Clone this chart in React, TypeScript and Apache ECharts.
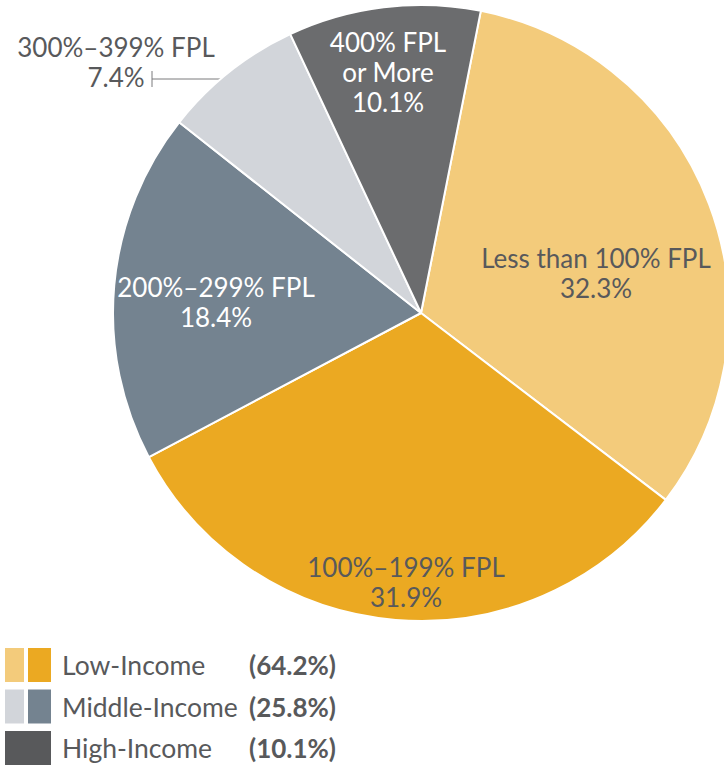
import React, { useEffect, useRef } from "react";
import * as echarts from "echarts";

const categories = ["Less than 100% FPL", "100%–199% FPL", "200%–299% FPL", "300%–399% FPL", "400% FPL\nor More"];
const values = [32.3, 31.9, 18.4, 7.4, 10.1];
const sliceColors = ["#F3CB7B", "#EBA922", "#748390", "#D2D5DA", "#6B6C6E"];
const labelColors = ["#58595B", "#58595B", "#FFFFFF", "#58595B", "#FFFFFF"];
const labelPos: [number, number][] = [[596, 273], [406, 582], [216, 302], [116, 62], [388, 72]];

const legendNames = ["Low-Income", "Middle-Income", "High-Income"];
const legendValues = ["(64.2%)", "(25.8%)", "(10.1%)"];
const legendSwatches = [["#F3CB7B", "#EBA922"], ["#D2D5DA", "#748390"], ["#58595B"]];

const FONT = "Lato, 'Noto Sans', sans-serif";

export default function App() {
  const ref = useRef<HTMLDivElement>(null);
  useEffect(() => {
    document.body.style.margin = "0";
    const chart = echarts.init(ref.current!, undefined, { renderer: "svg" });
    const graphic: any[] = [];
    legendNames.forEach((name, i) => {
      const y0 = 648 + i * 41.5;
      const sw = legendSwatches[i];
      if (sw.length === 2) {
        graphic.push({ type: "rect", shape: { x: 5, y: y0, width: 19, height: 34 }, style: { fill: sw[0] } });
        graphic.push({ type: "rect", shape: { x: 28, y: y0, width: 23, height: 34 }, style: { fill: sw[1] } });
      } else {
        graphic.push({ type: "rect", shape: { x: 5, y: y0, width: 46, height: 34 }, style: { fill: sw[0] } });
      }
      graphic.push({
        type: "text", x: 62, y: y0 + 17,
        style: { text: name, fill: "#58595B", font: `26.5px ${FONT}`, verticalAlign: "middle", align: "left" },
      });
      graphic.push({
        type: "text", x: 336, y: y0 + 17,
        style: { text: legendValues[i], fill: "#58595B", font: `bold 26px ${FONT}`, verticalAlign: "middle", align: "right" },
      });
    });
    // leader line for small slice
    graphic.push({ type: "line", shape: { x1: 152, y1: 79, x2: 221, y2: 79 }, style: { stroke: "#7a7b7d", lineWidth: 1 } });
    graphic.push({ type: "line", shape: { x1: 152, y1: 71, x2: 152, y2: 87 }, style: { stroke: "#7a7b7d", lineWidth: 1 } });

    chart.setOption({
      animation: false,
      graphic,
      series: [
        {
          type: "pie",
          center: [421, 313],
          radius: [0, 308],
          startAngle: 78.8,
          clockwise: true,
          avoidLabelOverlap: false,
          itemStyle: { borderColor: "#ffffff", borderWidth: 2 },
          label: {
            show: true,
            position: "inside",
            fontFamily: FONT,
            fontSize: 26,
            lineHeight: 30,
            align: "center",
            formatter: (p: any) => `${p.name}\n${p.value.toFixed(1)}%`,
          },
          labelLine: { show: false },
          labelLayout: (p: any) => ({
            x: labelPos[p.dataIndex][0],
            y: labelPos[p.dataIndex][1],
            align: "center",
            verticalAlign: "middle",
          }),
          data: categories.map((c, i) => ({
            name: c,
            value: values[i],
            itemStyle: { color: sliceColors[i] },
            label: { color: labelColors[i] },
          })),
        },
      ],
    });
    return () => chart.dispose();
  }, []);
  return <div ref={ref} style={{ width: 724, height: 765 }} />;
}
